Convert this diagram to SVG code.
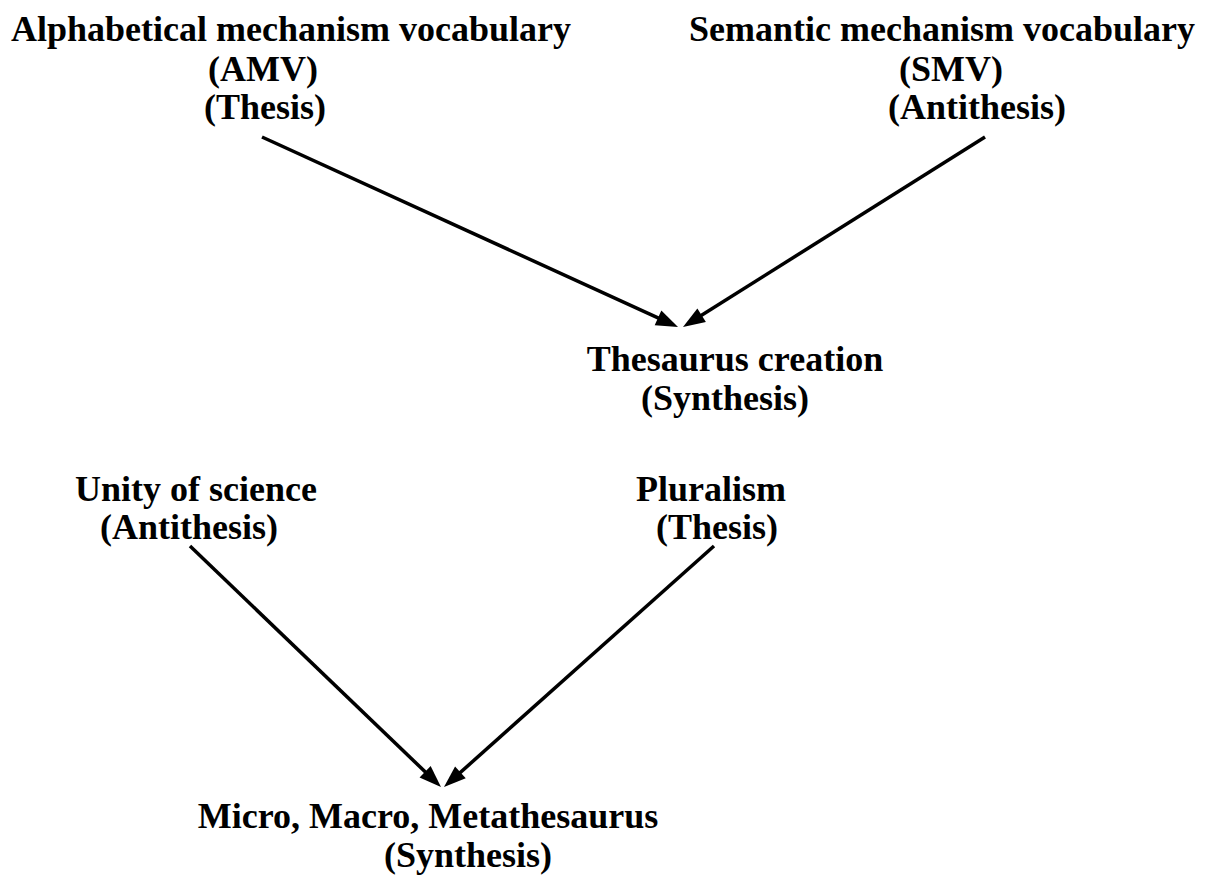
<svg xmlns="http://www.w3.org/2000/svg" width="1208" height="876" viewBox="0 0 1208 876">
<style>
.t{font-family:"Liberation Serif","Times New Roman",serif;font-weight:bold;font-size:36px;fill:#000;text-anchor:middle}
.c{stroke:#000;stroke-width:3.5;fill:none}
</style>
<defs>
<marker id="ah" markerUnits="userSpaceOnUse" markerWidth="24" markerHeight="18" refX="9" refY="0" viewBox="0 -9 24 18" orient="auto" overflow="visible">
<path d="M0,-8 L22,0 L0,8 Z" fill="#000"/>
</marker>
</defs>
<rect width="1208" height="876" fill="#fff"/>
<g id="amv">
<text class="t" x="291" y="41">Alphabetical mechanism vocabulary</text>
<text class="t" x="263" y="81">(AMV)</text>
<text class="t" x="265" y="119">(Thesis)</text>
</g>
<g id="smv">
<text class="t" x="942" y="41">Semantic mechanism vocabulary</text>
<text class="t" x="951" y="81">(SMV)</text>
<text class="t" x="977" y="119">(Antithesis)</text>
</g>
<g id="thesaurus">
<text class="t" x="735" y="371">Thesaurus creation</text>
<text class="t" x="725" y="410">(Synthesis)</text>
</g>
<g id="unity">
<text class="t" x="196" y="501">Unity of science</text>
<text class="t" x="189" y="539">(Antithesis)</text>
</g>
<g id="pluralism">
<text class="t" x="711" y="501">Pluralism</text>
<text class="t" x="717" y="539">(Thesis)</text>
</g>
<g id="meta">
<text class="t" x="428" y="828">Micro, Macro, Metathesaurus</text>
<text class="t" x="468" y="867">(Synthesis)</text>
</g>
<g id="connectors">
<line class="c" x1="262" y1="137" x2="666.2" y2="321.6" marker-end="url(#ah)"/>
<line class="c" x1="985" y1="137" x2="694" y2="320" marker-end="url(#ah)"/>
<line class="c" x1="190" y1="546" x2="431.6" y2="778" marker-end="url(#ah)"/>
<line class="c" x1="714" y1="546" x2="453.7" y2="778.4" marker-end="url(#ah)"/>
</g>
</svg>
